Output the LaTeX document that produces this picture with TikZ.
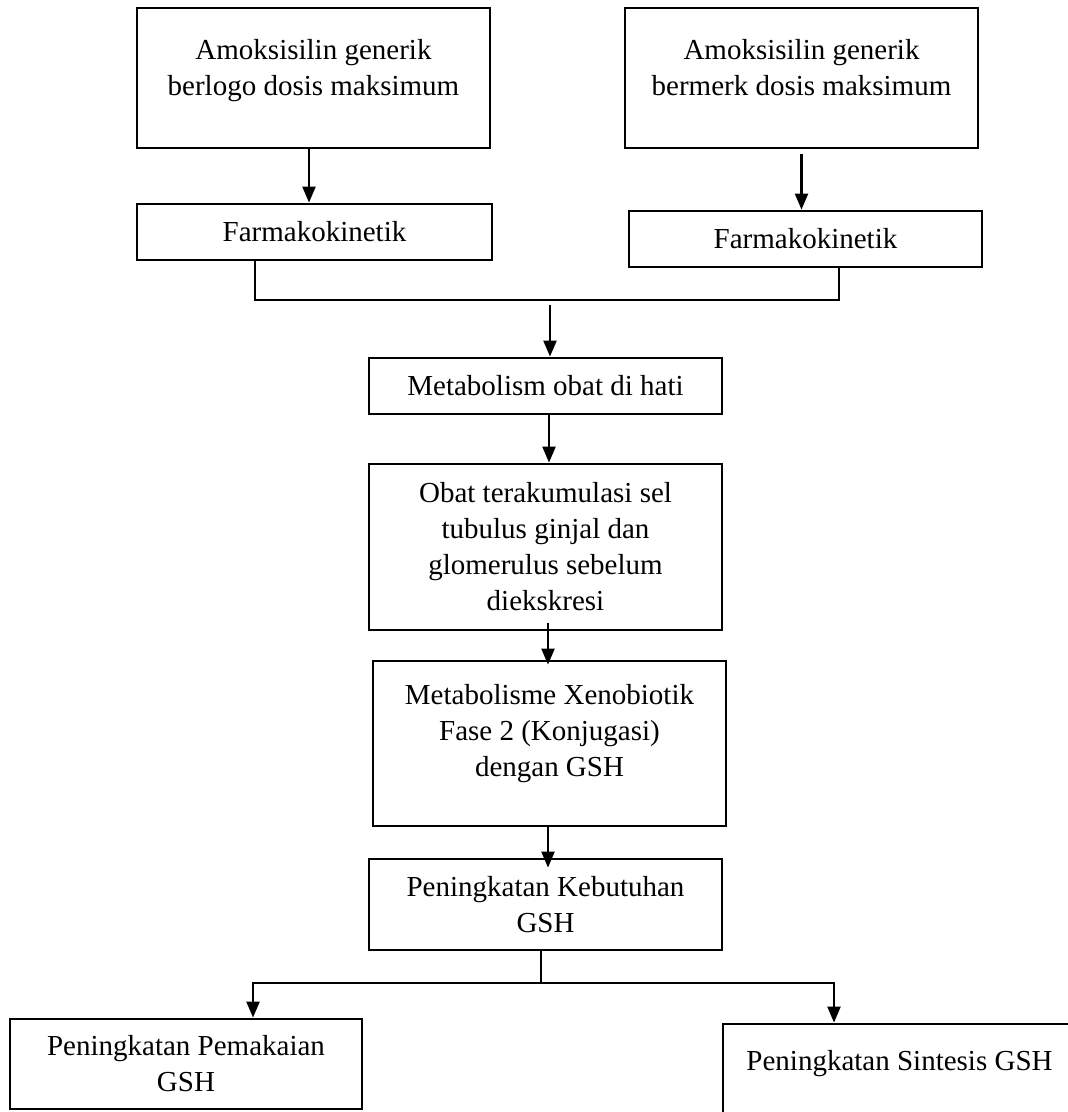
\documentclass[tikz,border=0pt]{standalone}
\usepackage{fontspec}
\setmainfont{Liberation Serif}
\usetikzlibrary{arrows.meta}

\tikzset{
  box/.style={draw, line width=1.4pt, minimum width=176.5pt, align=center,
    inner sep=0pt, font=\fontsize{14.5}{18}\selectfont},
  arr/.style={line width=1.1pt, -{Triangle[length=8pt,width=6.5pt]}},
  thinline/.style={line width=0.6pt}
}

\begin{document}
\begin{tikzpicture}[x=0.5pt, y=-0.5pt]
    \useasboundingbox (0,0) rectangle (1068,1112);

    % Two kinds of amoxicillin
    \node[box, minimum height=70pt, text depth=11pt] (amoxL) at (313.5,78) {Amoksisilin generik\\berlogo dosis maksimum};
    \node[box, minimum height=70pt, text depth=11pt] (amoxR) at (801.5,78) {Amoksisilin generik\\bermerk dosis maksimum};

    \node[box, minimum width=177.5pt, minimum height=28pt] (farmL) at (314.5,232) {Farmakokinetik};
    \node[box, minimum height=28pt] (farmR) at (805.5,239) {Farmakokinetik};

    % Main chain
    \node[box, minimum height=28pt] (meta) at (545.5,386) {Metabolism obat di hati};
    \node[box, minimum height=83pt] (obat) at (545.5,547) {Obat terakumulasi sel\\tubulus ginjal dan\\glomerulus sebelum\\diekskresi};
    \node[box, minimum height=82.5pt, text depth=13pt] (xeno) at (549.5,743.5) {Metabolisme Xenobiotik\\Fase 2 (Konjugasi)\\dengan GSH};
    \node[box, minimum height=45.5pt] (keb) at (545.5,904.5) {Peningkatan Kebutuhan\\GSH};

    % Two outcomes
    \node[box, minimum width=176pt, minimum height=45pt] (pakai) at (186,1064) {Peningkatan Pemakaian\\GSH};
    \node[box, minimum height=60pt, text depth=24pt] (sintesis) at (899.5,1084) {Peningkatan Sintesis GSH};

    % Junction points
    \coordinate (jl) at (255,300);
    \coordinate (jr) at (839,300);
    \coordinate (jm) at (550,305);
    \coordinate (js) at (541,983);
    \coordinate (sl) at (253,983);
    \coordinate (sr) at (834,983);

    % Arrows
    \draw[arr] ([xshift=-2.25pt]amoxL.south) -- ([xshift=-2.25pt]amoxL.south |- farmL.north);
    \draw[arr] ([yshift=-2.5pt]amoxR.south) -- (amoxR.south |- farmR.north);

    \draw[thinline] (jl |- farmL.south) -- (jl) -- (jr) -- (jr |- farmR.south);
    \draw[arr] (jm) -- (jm |- meta.north);

    \draw[arr] ([xshift=1.75pt]meta.south) -- ([xshift=1.75pt]meta.south |- obat.north);
    \draw[arr, shorten >=-2.5pt] ([xshift=1.25pt,yshift=4pt]obat.south) -- ([xshift=1.25pt]obat.south |- xeno.north);
    \draw[arr, shorten >=-5pt] ([xshift=-0.75pt]xeno.south) -- ([xshift=-0.75pt]xeno.south |- keb.north);

    \draw[thinline] (js |- keb.south) -- (js);
    \draw[thinline] (sl) -- (sr);
    \draw[arr] ([yshift=0.3pt]sl) -- (sl |- pakai.north);
    \draw[arr] ([yshift=0.3pt]sr) -- (sr |- sintesis.north);
\end{tikzpicture}
\end{document}
